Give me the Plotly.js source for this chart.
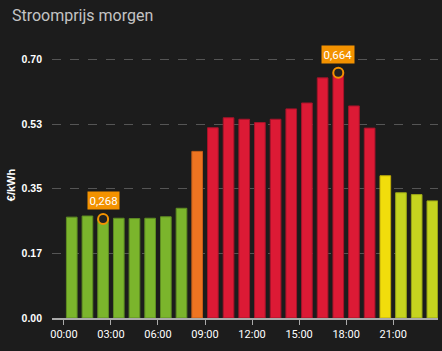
<!DOCTYPE html>
<html>
<head>
<meta charset="utf-8">
<script src="https://cdn.plot.ly/plotly-3.0.1.min.js"></script>
<style>
html,body{margin:0;padding:0;background:#1c1c1c;}
#chart{width:442px;height:351px;}
</style>
</head>
<body>
<div id="chart"></div>
<script>
const hours = [0,1,2,3,4,5,6,7,8,9,10,11,12,13,14,15,16,17,18,19,20,21,22,23];
const prices = [0.273,0.276,0.268,0.270,0.269,0.270,0.274,0.297,0.451,0.515,0.542,0.538,0.529,0.538,0.566,0.582,0.650,0.664,0.574,0.514,0.385,0.339,0.334,0.317];
const levels = ['low','low','low','low','low','low','low','low','mid','high','high','high','high','high','high','high','high','high','high','high','avg','lowish','lowish','lowish'];
const tickHours = [0,3,6,9,12,15,18,21];
const tickLabels = ['00:00','03:00','06:00','09:00','12:00','15:00','18:00','21:00'];
const yTicks = [0,0.175,0.35,0.525,0.70];
const yTickLabels = ['0.00','0.17','0.35','0.53','0.70'];

const fillOf = {low:'#7bb52c', mid:'#ee7421', high:'#dc1a35', avg:'#f1dd0c', lowish:'#c6d41f'};
const lineOf = {low:'#5e8c22', mid:'#c45d19', high:'#a5142a', avg:'#bfae08', lowish:'#9aa617'};

const xs = hours.map(h => h + 0.5);
const minV = Math.min(...prices), maxV = Math.max(...prices);
const iMin = prices.indexOf(minV), iMax = prices.indexOf(maxV);
const fmt = v => v.toFixed(3).replace('.', ',');

const bars = {
  type:'bar', x: xs, y: prices, width: 0.68,
  marker:{color: levels.map(l => fillOf[l]), line:{color: levels.map(l => lineOf[l]), width:1}},
  hoverinfo:'skip'
};
const marks = {
  type:'scatter', mode:'markers', x:[xs[iMin], xs[iMax]], y:[minV, maxV],
  marker:{size:10, color:'#222', line:{color:'#f39200', width:2}},
  hoverinfo:'skip'
};

const ann = (i, v) => ({
  x: xs[i], y: v, xref:'x', yref:'y', text: fmt(v), showarrow:false,
  yshift: 18, bgcolor:'#f39200', font:{color:'#ffffff', size:11.5, family:'Roboto, Arial, sans-serif'},
  borderpad: 1.5
});

const layout = {
  width:442, height:351,
  paper_bgcolor:'#1c1c1c', plot_bgcolor:'#1c1c1c',
  margin:{l:52, r:4, t:52, b:33},
  showlegend:false,
  title:{text:'Stroomprijs morgen', x:0.027, xanchor:'left', y:0.955, yanchor:'middle',
         font:{color:'#c4c4c4', size:16, family:'Roboto, Arial, sans-serif'}},
  xaxis:{range:[-0.76, 23.86], tickvals: tickHours, ticktext: tickLabels, showgrid:false,
         showline:true, linecolor:'#aaaaaa', linewidth:1.5, ticks:'outside', ticklen:5, tickcolor:'#aaaaaa',
         tickfont:{color:'#ffffff', size:11, family:'Roboto, Arial, sans-serif'}, zeroline:false, fixedrange:true},
  yaxis:{range:[0, 0.72], tickvals: yTicks, ticktext: yTickLabels, showgrid:true, gridcolor:'#555555',
         griddash:'dash', gridwidth:1, zeroline:false, showline:false, ticks:'', ticklabelstandoff:9,
         tickfont:{color:'#ffffff', size:10.5, family:'Arial, sans-serif', weight:'bold'},
         title:{text:'€/kWh', standoff:3, font:{color:'#ffffff', size:11, family:'Arial, sans-serif', weight:'bold'}},
         fixedrange:true},
  bargap:0.3,
  annotations:[ann(iMin, minV), ann(iMax, maxV)]
};
Plotly.newPlot('chart', [bars, marks], layout, {displayModeBar:false, staticPlot:true});
</script>
</body>
</html>
